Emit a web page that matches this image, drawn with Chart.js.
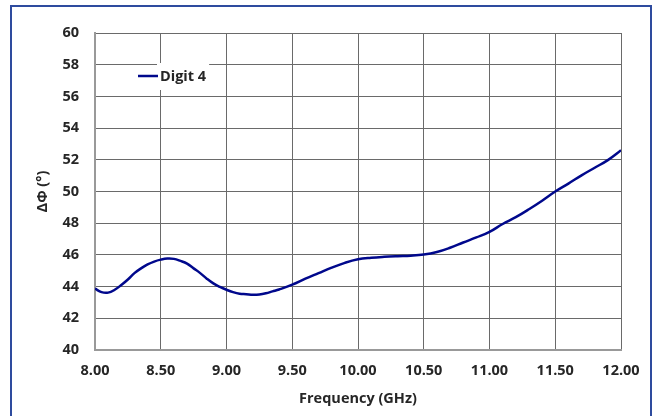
<!DOCTYPE html>
<html>
<head>
    <title>Digit 4 phase</title>
    <meta charset="utf-8">
    <script src="https://cdn.jsdelivr.net/npm/chart.js"></script>
    <style>
    html, body { margin: 0; padding: 0; background: #fff; overflow: hidden; }
    .frame {
        position: absolute;
        left: 10px; top: 5px;
        width: 638px; height: 440px;
        border: 2px solid #2e4b9e;
    }
    .wrap {
        position: absolute;
        left: 0; top: 0;
        width: 661px; height: 416px;
    }
    </style>
</head>
<body>
    <div class="frame"></div>
    <div class="wrap"><canvas id="phaseChart" width="661" height="416"></canvas></div>
<script>
    const freqs = [8.00, 8.05, 8.10, 8.15, 8.20, 8.25, 8.30, 8.35, 8.40, 8.45,
                   8.50, 8.55, 8.60, 8.65, 8.70, 8.75, 8.80, 8.85, 8.90, 8.95,
                   9.00, 9.05, 9.10, 9.15, 9.20, 9.25, 9.30, 9.35, 9.40, 9.50,
                   9.60, 9.70, 9.80, 9.90, 10.00, 10.10, 10.20, 10.30, 10.40, 10.50,
                   10.60, 10.70, 10.80, 10.90, 11.00, 11.10, 11.20, 11.30, 11.40, 11.50,
                   11.60, 11.70, 11.80, 11.90, 12.00];
    const digit4 = [43.87, 43.65, 43.62, 43.80, 44.10, 44.45, 44.85, 45.15, 45.40, 45.58,
                    45.70, 45.77, 45.75, 45.62, 45.45, 45.15, 44.85, 44.50, 44.20, 43.98,
                    43.80, 43.65, 43.55, 43.52, 43.48, 43.50, 43.58, 43.70, 43.82, 44.12,
                    44.50, 44.85, 45.20, 45.50, 45.72, 45.82, 45.88, 45.92, 45.95, 46.02,
                    46.18, 46.45, 46.78, 47.10, 47.45, 47.95, 48.38, 48.88, 49.42, 50.00,
                    50.50, 51.02, 51.50, 51.98, 52.60];
    const seriesName = 'Digit 4';

    const textColor = '#262626';
    const gridColor = '#6a6a6a';
    const lineColor = '#00088c';
    const fontFamily = '"Open Sans", sans-serif';
    const fontSize = 14.5;

    // legend drawn inside the plot, with a white box behind the label
    const insideLegend = {
        id: 'insideLegend',
        afterDatasetsDraw(chart) {
            const ctx = chart.ctx;
            const a = chart.chartArea;
            const x = a.left + 43, y = a.top + 43;
            ctx.save();
            ctx.font = 'bold ' + fontSize + 'px ' + fontFamily;
            const w = ctx.measureText(seriesName).width;
            ctx.fillStyle = '#fff';
            ctx.fillRect(x + 19, y - 13, w + 6, 27);
            ctx.strokeStyle = lineColor;
            ctx.lineWidth = 2.5;
            ctx.beginPath();
            ctx.moveTo(x, y);
            ctx.lineTo(x + 20, y);
            ctx.stroke();
            ctx.fillStyle = textColor;
            ctx.textBaseline = 'middle';
            ctx.fillText(seriesName, x + 22, y + 1);
            ctx.restore();
        }
    };

    new Chart(document.getElementById('phaseChart'), {
        type: 'line',
        data: {
            datasets: [{
                label: seriesName,
                data: freqs.map((f, i) => ({ x: f, y: digit4[i] })),
                borderColor: lineColor,
                borderWidth: 2.5,
                pointRadius: 0,
                tension: 0.4,
                fill: false
            }]
        },
        options: {
            responsive: false,
            animation: false,
            layout: { padding: { left: 30, top: 33, right: 40, bottom: 8 } },
            plugins: {
                legend: { display: false },
                tooltip: { enabled: false }
            },
            scales: {
                x: {
                    type: 'linear',
                    min: 8, max: 12,
                    ticks: {
                        stepSize: 0.5,
                        padding: 12,
                        color: textColor,
                        font: { family: fontFamily, size: fontSize, weight: 'bold' },
                        callback: v => v.toFixed(2)
                    },
                    grid: { color: gridColor, drawTicks: false },
                    border: { color: '#999', width: 2 },
                    title: {
                        display: true,
                        text: 'Frequency (GHz)',
                        color: textColor,
                        font: { family: fontFamily, size: fontSize, weight: 'bold' },
                        padding: { top: 4, bottom: 0 }
                    },
                    afterFit: s => { s.height = 58; }
                },
                y: {
                    min: 40, max: 60,
                    ticks: {
                        stepSize: 2,
                        padding: 16,
                        color: textColor,
                        font: { family: fontFamily, size: fontSize, weight: 'bold' }
                    },
                    grid: { color: gridColor, drawTicks: false },
                    border: { color: '#999', width: 2 },
                    title: {
                        display: true,
                        text: 'ΔΦ (°)',
                        color: textColor,
                        font: { family: fontFamily, size: fontSize, weight: 'bold' },
                        padding: { top: 4, bottom: 0 }
                    },
                    afterFit: s => { s.width = 65; }
                }
            }
        },
        plugins: [insideLegend]
    });
</script>
</body>
</html>
